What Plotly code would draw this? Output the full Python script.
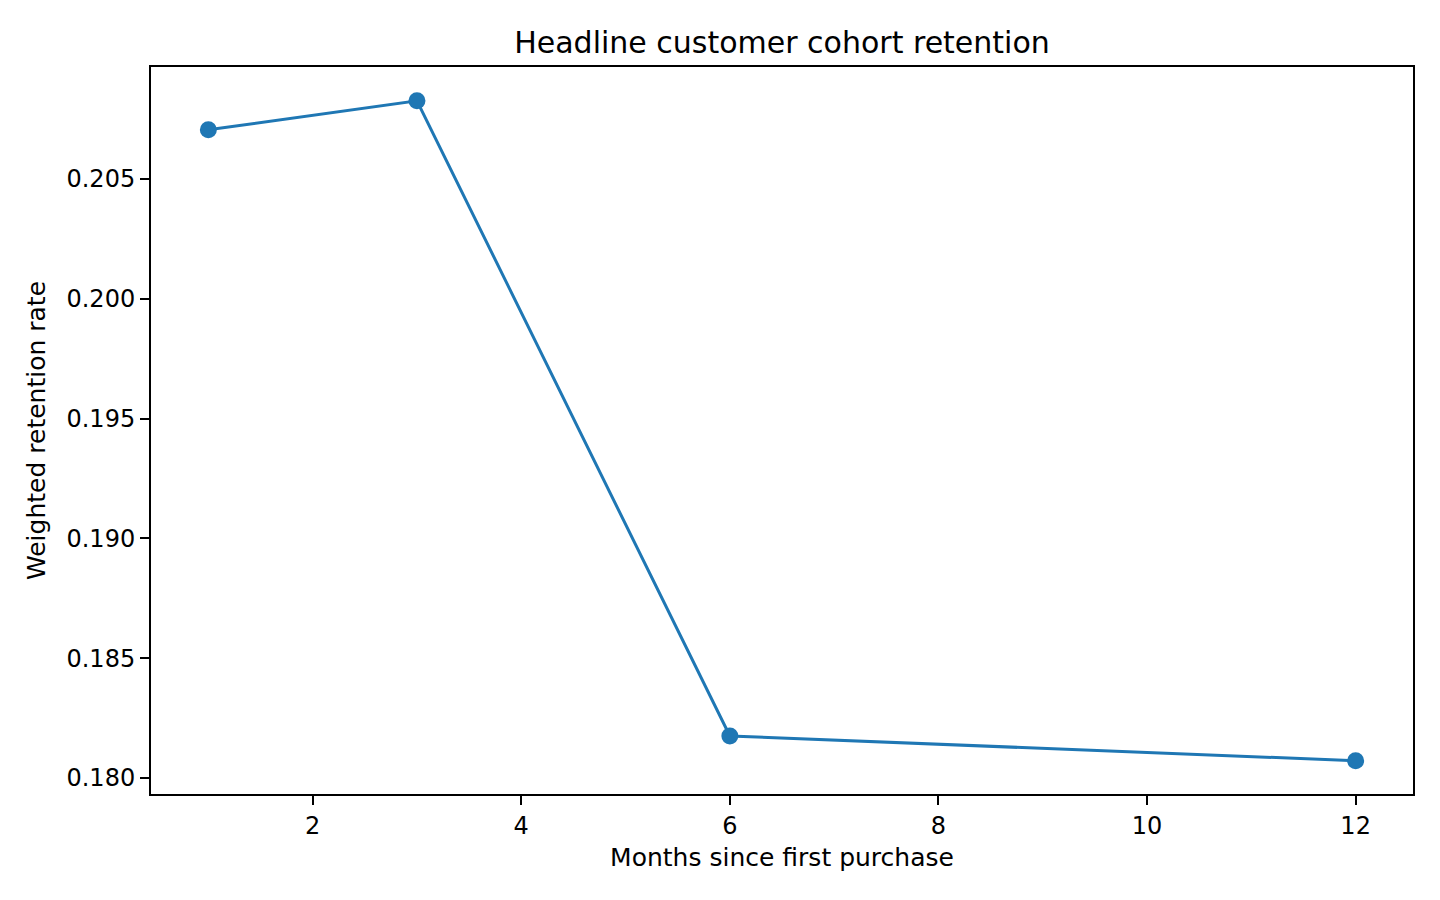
import plotly.graph_objects as go

# data
months = [1, 3, 6, 12]
retention = [0.20705, 0.20826, 0.18175, 0.18072]

title_text = "Headline customer cohort retention"
x_label = "Months since first purchase"
y_label = "Weighted retention rate"

blue = "#1f77b4"
font_family = "DejaVu Sans"

fig = go.Figure()

fig.add_trace(go.Scatter(
    x=months, y=retention,
    mode="lines+markers",
    line=dict(color=blue, width=3),
    marker=dict(color=blue, size=17),
    showlegend=False,
))

axis_style = dict(
    showline=True, linecolor="black", linewidth=2, mirror=True,
    ticks="outside", ticklen=9, tickwidth=2, tickcolor="black",
    showgrid=False, zeroline=False,
    tickfont=dict(size=24, color="black", family=font_family),
)

# the page body adds an 8px offset, so margins are trimmed to compensate
fig.update_layout(
    width=1440, height=900,
    paper_bgcolor="white", plot_bgcolor="white",
    font=dict(family=font_family, color="black"),
    margin=dict(l=143, r=35, t=59, b=114),
    title=dict(text=title_text, x=774 / 1440, xanchor="center",
               y=1 - 34 / 900, yanchor="middle",
               font=dict(size=30, color="black", family=font_family)),
    xaxis=dict(
        range=[0.45, 12.55], dtick=2, tick0=0,
        title=dict(text=x_label, font=dict(size=25), standoff=10),
        **axis_style,
    ),
    yaxis=dict(
        range=[0.17933, 0.20967], dtick=0.005, tick0=0, tickformat=".3f",
        title=dict(text=y_label, font=dict(size=25), standoff=14),
        **axis_style,
    ),
)

fig.write_html("out.html")
